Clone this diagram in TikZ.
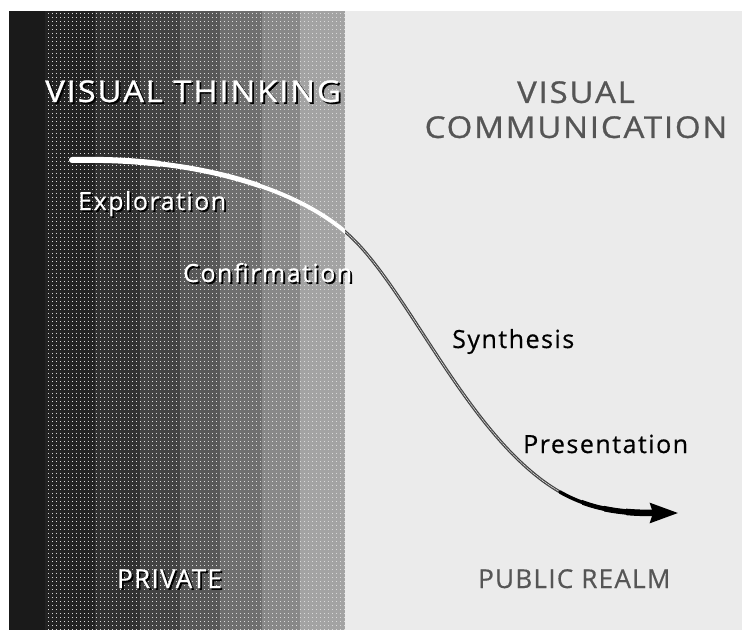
\documentclass[tikz,border=0pt]{standalone}
\usepackage{fontspec}
\setmainfont{Open Sans}
\newfontfamily\headfont[FakeStretch=1.1, LetterSpace=6, FakeBold=0.8]{Open Sans}
\newfontfamily\stagefont[LetterSpace=6, FakeBold=0.5]{Open Sans}
\newfontfamily\realmfont[LetterSpace=5, FakeBold=0.5]{Open Sans}
\usetikzlibrary{arrows.meta, patterns}

\definecolor{paper}{HTML}{EBEBEB}
\definecolor{ink}{HTML}{1A1A1A}
\definecolor{caption}{HTML}{555555}
\newcommand{\shadowed}[1]{\rlap{\kern1.8pt\raisebox{-1.8pt}{\color{black}#1}}#1}
\pgfdeclarepatternformonly{halftone}{\pgfqpoint{-1pt}{-1pt}}{\pgfqpoint{5pt}{5pt}}{\pgfqpoint{4pt}{4pt}}
    {\pgfpathrectangle{\pgfqpoint{0pt}{0pt}}{\pgfqpoint{1.4pt}{1.4pt}}\pgfusepath{fill}}

\begin{document}
\begin{tikzpicture}[
                                x=1pt, y=-1pt,
                                heading/.style={
                                    inner sep=0pt,
                                    font=\headfont\fontsize{30}{35}\selectfont
                                    },
                                stage/.style={
                                    inner sep=0pt, anchor=base west,
                                    font=\stagefont\fontsize{25}{28}\selectfont
                                    },
                                realm/.style={
                                    inner sep=0pt, anchor=base west,
                                    font=\realmfont\fontsize{26}{28}\selectfont
                                    },
                                private/.style={text=white},
                                public/.style={text=caption},
                                flow/.style={line cap=round}
                                ]
                            \useasboundingbox (0,0) rectangle (742,630);
                            \fill[paper] (9,11) rectangle (742,630);
                            \foreach \xl/\xr/\g in {9/45/100, 45/95/96, 95/140/90, 140/180/82,
                                                    180/220/73, 220/262/63, 262/300/52, 300/345/40}
                                \fill[ink!\g!white] (\xl,11) rectangle (\xr,630);
                            \fill[pattern=halftone, pattern color=white!85!black] (45,11) rectangle (345,630);

                            \coordinate (start) at (72,160);
                            \coordinate (bend) at (350,236);
                            \coordinate (fall) at (560,492);
                            \coordinate (tip) at (678,513);

                            % the curve: white in the private part, grey then black in the public part
                            \foreach \xl/\xr/\w in {9/160/6, 160/260/5, 260/345/4}{
                                \begin{scope}
                                    \clip (\xl,11) rectangle (\xr,630);
                                    \draw[flow, white, line width=\w pt]
                                        (start) .. controls (200,157) and (300,190) .. (bend);
                                \end{scope}
                            }
                            \begin{scope}
                                \clip (345,11) rectangle (742,630);
                                \draw[flow, black!75, line width=3pt]
                                    (start) .. controls (200,157) and (300,190) .. (bend)
                                    .. controls (410,292) and (470,440) .. (fall);
                                \draw[flow, white!80!black, line width=0.9pt, densely dotted]
                                    (start) .. controls (200,157) and (300,190) .. (bend)
                                    .. controls (410,292) and (470,440) .. (fall);
                            \end{scope}
                            \foreach \xl/\w in {582/4.5, 604/5.5, 626/6.5}{
                                \begin{scope}
                                    \clip (\xl,11) rectangle (742,630);
                                    \draw[black, line width=\w pt, shorten >=22pt]
                                        (fall) .. controls (595,512) and (630,513) .. (tip);
                                \end{scope}
                            }
                            \draw[flow, black, line width=3.5pt,
                                  -{Stealth[length=28pt, width=20pt, inset=3pt]}]
                                (fall) .. controls (595,512) and (630,513) .. (tip);

                            \node [heading, private, anchor=base west] (thinking) at (45,102) {\shadowed{VISUAL THINKING}};
                            \node [heading, public, align=center, anchor=north]
                                (communication) at (576,81) {VISUAL\\COMMUNICATION};
                            \node [stage, private] (exploration) at (78,210) {\shadowed{Exploration}};
                            \node [stage, private] (confirmation) at (183,282) {\shadowed{Confirmation}};
                            \node [stage] (synthesis) at (452,348) {Synthesis};
                            \node [stage] (presentation) at (523,453) {Presentation};
                            \node [realm, private] (private) at (117,588) {\shadowed{PRIVATE}};
                            \node [realm, public] (public) at (478,588) {PUBLIC REALM};
                        \end{tikzpicture}
\end{document}
